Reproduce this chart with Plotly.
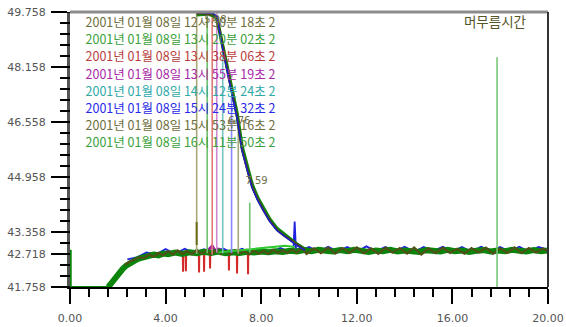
import plotly.graph_objects as go

# ---------------- data ----------------
X_TICKS = [0, 4, 8, 12, 16, 20]
X_TICK_TEXT = ["0.00", "4.00", "8.00", "12.00", "16.00", "20.00"]
Y_TICKS = [41.758, 42.718, 43.358, 44.958, 46.558, 48.158, 49.758]
Y_TICK_TEXT = ["41.758", "42.718", "43.358", "44.958", "46.558", "48.158", "49.758"]

# zero spike + flat start (green)
ZERO_X = [0.03, 0.03, 1.60]
ZERO_Y = [42.84, 41.758, 41.758]

# green baseline band
GX = [1.60, 1.75, 1.90, 2.05, 2.20, 2.35, 2.50, 2.65, 2.80, 2.95, 3.10, 3.30, 3.50, 3.70, 3.90,
      4.10, 4.40, 4.70, 5.00, 5.30, 5.60, 5.90, 6.20, 6.50, 6.80, 7.10, 7.40, 7.70, 8.00, 8.30,
      8.60, 8.90, 9.20, 9.50, 9.80, 10.10, 10.40, 10.70, 11.00, 11.30, 11.60, 11.90, 12.20, 12.50,
      12.80, 13.10, 13.40, 13.70, 14.00, 14.30, 14.60, 14.90, 15.20, 15.50, 15.80, 16.10, 16.40,
      16.70, 17.00, 17.30, 17.60, 17.90, 18.20, 18.50, 18.80, 19.10, 19.40, 19.70, 20.00]
GY = [41.758, 41.90, 42.05, 42.18, 42.28, 42.38, 42.45, 42.52, 42.56, 42.60, 42.63, 42.66, 42.70,
      42.68, 42.73, 42.71, 42.76, 42.72, 42.77, 42.74, 42.78, 42.75, 42.79, 42.74, 42.77, 42.75,
      42.78, 42.76, 42.79, 42.77, 42.80, 42.78, 42.81, 42.79, 42.83, 42.80, 42.84, 42.81, 42.79,
      42.83, 42.80, 42.84, 42.81, 42.78, 42.82, 42.80, 42.84, 42.79, 42.82, 42.80, 42.78, 42.83,
      42.81, 42.79, 42.84, 42.80, 42.82, 42.78, 42.81, 42.83, 42.79, 42.82, 42.80, 42.84, 42.81,
      42.79, 42.83, 42.80, 42.82]

# olive baseline (noisy)
OX = [2.30, 2.50, 2.70, 2.90, 3.10, 3.30, 3.50, 3.70, 3.90, 4.10, 4.30, 4.50, 4.70, 4.90, 5.10,
      5.30, 5.50, 5.70, 5.90, 6.10, 6.30, 6.50, 6.70, 6.90, 7.10, 7.30, 7.50, 7.70, 7.90, 8.10,
      8.30, 8.50, 8.70, 8.90, 9.10, 9.30, 9.50, 9.70, 9.90, 10.2, 10.5, 10.8, 11.1, 11.4, 11.7,
      12.0, 12.3, 12.6, 12.9, 13.2, 13.5, 13.8, 14.1, 14.4, 14.7, 15.0, 15.3, 15.6, 15.9, 16.2,
      16.5, 16.8, 17.1, 17.4, 17.7, 18.0, 18.3, 18.6, 18.9, 19.2, 19.5, 19.8, 20.0]
OY = [42.40, 42.50, 42.55, 42.62, 42.60, 42.70, 42.64, 42.75, 42.68, 42.80,
      42.70, 42.82, 42.72, 42.80, 42.71, 42.84, 42.73, 42.81, 42.70, 42.82,
      42.72, 42.80, 42.70, 42.83, 42.74, 42.80, 42.71, 42.82, 42.73, 42.81,
      42.72, 42.84, 42.74, 42.82, 42.75, 42.85, 42.76, 42.90, 42.72,
      42.88, 42.74, 42.90, 42.73, 42.89, 42.75, 42.91, 42.74, 42.88, 42.72,
      42.90, 42.76, 42.89, 42.73, 42.91, 42.70, 42.88, 42.74, 42.90, 42.75,
      42.87, 42.73, 42.89, 42.76, 42.90, 42.72, 42.88, 42.75, 42.91, 42.74,
      42.89, 42.76, 42.88, 42.80]

# blue baseline with spike near 9.4
BX = [2.4, 2.8, 3.2, 3.6, 4.0, 4.4, 4.8, 5.2, 5.6, 6.0, 6.4, 6.8, 7.2, 7.6, 8.0, 8.4, 8.8, 9.2,
      9.35, 9.4, 9.45, 9.6, 10.0, 10.4, 10.8, 11.2, 11.6, 12.0, 12.4, 12.8, 13.2, 13.6, 14.0,
      14.4, 14.8, 15.2, 15.6, 16.0, 16.4, 16.8, 17.2, 17.6, 18.0, 18.4, 18.8, 19.2, 19.6, 20.0]
BY = [42.56, 42.62, 42.76, 42.70, 42.86, 42.72, 42.87, 42.74, 42.86, 42.73, 42.88, 42.75, 42.87,
      42.74, 42.88, 42.76, 42.89, 42.78, 42.86, 43.66, 42.90, 42.80, 42.92, 42.78, 42.93, 42.79,
      42.92, 42.78, 42.94, 42.80, 42.92, 42.79, 42.93, 42.78, 42.92, 42.80, 42.93, 42.79, 42.92,
      42.78, 42.93, 42.80, 42.92, 42.79, 42.93, 42.78, 42.92, 42.84]

# red dips below the baseline
RED_X = [4.50, 4.72, 4.73, 4.74, 4.84, 4.85, 4.86, 5.39, 5.40, 5.41, 5.60, 5.61, 5.62, 5.85, 5.86,
         5.87, 6.64, 6.65, 6.66, 6.98, 6.99, 7.00, 7.44, 7.45, 7.46, 7.70]
RED_Y = [42.76, 42.76, 42.20, 42.76, 42.76, 42.22, 42.76, 42.76, 42.18, 42.76, 42.76, 42.20, 42.76,
         42.76, 42.30, 42.76, 42.76, 42.24, 42.76, 42.76, 42.15, 42.76, 42.76, 42.13, 42.76, 42.76]

PURPLE_X = [5.50, 5.80, 5.95, 6.05, 6.20, 6.50]
PURPLE_Y = [42.80, 42.84, 42.95, 42.82, 42.86, 42.80]

# light green drift line
DRIFT_X = [6.2, 6.6, 7.0, 7.5, 8.0, 8.5, 9.0, 9.4]
DRIFT_Y = [42.76, 42.79, 42.81, 42.86, 42.90, 42.93, 42.96, 42.92]

# common decay curve
DX = [5.30, 5.55, 5.74, 5.98, 6.15, 6.40, 6.69, 6.99, 7.20, 7.45, 7.62, 7.85, 8.08, 8.35, 8.66,
      8.95, 9.21, 9.50, 9.83]
DY = [49.70, 49.72, 49.68, 49.70, 49.60, 48.68, 47.71, 46.72, 45.76, 45.10, 44.68, 44.32, 44.01,
      43.70, 43.42, 43.26, 43.13, 42.98, 42.84]
DGY = [49.68, 49.70, 49.70, 49.66, 49.56, 48.74, 47.78, 46.80, 45.84, 45.16, 44.74, 44.36, 44.06,
       43.74, 43.46, 43.30, 43.16, 43.00, 42.86]
DBY = [49.74, 49.73, 49.72, 49.72, 49.62, 48.64, 47.66, 46.68, 45.72, 45.06, 44.64, 44.28, 43.98,
       43.67, 43.40, 43.24, 43.11, 42.96, 42.83]

# run peaks (vertical drop lines)
SPIKE_T = [5.30, 5.74, 5.95, 6.14, 6.39, 6.76, 7.04, 7.52]
SPIKE_BASE = [42.72, 42.74, 42.70, 42.76, 42.74, 42.75, 42.73, 42.76]
SPIKE_TOP = [49.90, 49.90, 49.90, 49.90, 48.70, 47.30, 46.60, 44.21]
SPIKE_COLORS = ["#a8a878", "#70c070", "#e07878", "#d088d0", "#78c4c4", "#8888ff", "#a8a878", "#70c070"]

STUB_X = [5.30, 5.30]
STUB_Y = [42.98, 43.65]

RT_LINE_X = [17.87, 17.87]
RT_LINE_Y = [41.758, 48.44]

RUN_LABELS = ["2001년 01월 08일 12시 50분 18초 2",
              "2001년 01월 08일 13시 20분 02초 2",
              "2001년 01월 08일 13시 38분 06초 2",
              "2001년 01월 08일 13시 55분 19초 2",
              "2001년 01월 08일 14시 12분 24초 2",
              "2001년 01월 08일 15시 24분 32초 2",
              "2001년 01월 08일 15시 53분 16초 2",
              "2001년 01월 08일 16시 11분 50초 2"]
RUN_COLORS = ["#6e6e3c", "#3aa03a", "#b83c3c", "#a828a8", "#30a8a8", "#2828e8", "#6e6e3c", "#3aa03a"]
RUN_LABEL_Y = [49.41, 48.91, 48.41, 47.91, 47.41, 46.91, 46.41, 45.91]
RUN_LABEL_X = [0.65] * 8

PEAK_LABELS = ["5.98", "6.76", "7.59"]
PEAK_LABEL_X = [5.62, 6.62, 7.34]
PEAK_LABEL_Y = [49.50, 46.58, 44.82]

RT_TITLE = ["머무름시간"]
RT_TITLE_X = [17.78]
RT_TITLE_Y = [49.41]

# ---------------- figure ----------------
fig = go.Figure()

def line(x, y, color, width, opacity=1.0):
    fig.add_trace(go.Scatter(x=x, y=y, mode="lines", opacity=opacity,
                             line=dict(color=color, width=width), hoverinfo="skip"))

line(RED_X, RED_Y, "#d42a2a", 2)
line(PURPLE_X, PURPLE_Y, "#a020a0", 3)
line(BX, BY, "#2020e0", 1.8)
line(GX, GY, "#0a840a", 6)
line(ZERO_X, ZERO_Y, "#0a840a", 2)
line(OX, OY, "#505018", 2.2)
line(DRIFT_X, DRIFT_Y, "#30c830", 2)

for t, b, top, c in zip(SPIKE_T, SPIKE_BASE, SPIKE_TOP, SPIKE_COLORS):
    line([t, t], [b, top], c, 1.6)

line(STUB_X, STUB_Y, "#6b6b1a", 2)
line(DX, DGY, "#0a8a0a", 3.5)
line(DX, DY, "#4a4a14", 2.5)
line(DX, DBY, "#1a1ad8", 1.4)
line(RT_LINE_X, RT_LINE_Y, "#78c878", 1.6)

# run labels as text marks
for txt, c, x, y in zip(RUN_LABELS, RUN_COLORS, RUN_LABEL_X, RUN_LABEL_Y):
    fig.add_trace(go.Scatter(x=[x], y=[y], mode="text", text=[txt], textposition="middle right",
                             textfont=dict(family="Noto Sans CJK KR", size=12.5, color=c),
                             hoverinfo="skip", cliponaxis=False))

fig.add_trace(go.Scatter(x=PEAK_LABEL_X, y=PEAK_LABEL_Y, mode="text", text=PEAK_LABELS,
                         textposition="middle right", hoverinfo="skip",
                         textfont=dict(family="DejaVu Sans", size=10, color="#6e6e50")))

fig.add_trace(go.Scatter(x=RT_TITLE_X, y=RT_TITLE_Y, mode="text", text=RT_TITLE,
                         textposition="middle center", hoverinfo="skip",
                         textfont=dict(family="Noto Sans CJK KR", size=13.5, color="#55552a")))

fig.update_layout(
    xaxis=dict(range=[0, 20], showgrid=False, zeroline=False, showline=True, linecolor="black",
               linewidth=2, ticks="outside", ticklen=15, tickwidth=2, tickcolor="black",
               tickmode="linear", tick0=0, dtick=4, tickformat=".2f", ticklabelstandoff=5,
               automargin=False,
               tickfont=dict(family="DejaVu Sans", size=11, color="#555555"),
               minor=dict(ticks="outside", ticklen=8, tickwidth=2, tickcolor="black",
                          tick0=0, dtick=0.8)),
    yaxis=dict(range=[41.758, 49.758], showgrid=False, zeroline=False, showline=True,
               linecolor="#555555", linewidth=3, ticks="outside", ticklen=16, tickwidth=2,
               tickcolor="black", tickmode="array", tickvals=Y_TICKS, ticktext=Y_TICK_TEXT,
               ticklabelstandoff=3, automargin=False,
               tickfont=dict(family="DejaVu Sans", size=11, color="#555555")),
)

# minor y ticks (axis furniture), every 0.32 from the bottom of the axis
PLOT_W = 566 - 70 - 18
for k in range(26):
    v = round(41.758 + 0.32 * k, 3)
    fig.add_shape(type="line", xref="paper", yref="y", x0=-10 / PLOT_W, x1=0, y0=v, y1=v,
                  line=dict(color="black", width=2), layer="above")

fig.add_shape(type="line", xref="paper", yref="paper", x0=0, x1=1, y0=1, y1=1,
              line=dict(color="#8c8c8c", width=3))
fig.add_shape(type="line", xref="paper", yref="paper", x0=1, x1=1, y0=0, y1=1,
              line=dict(color="#333333", width=2))

fig.update_layout(width=566, height=327, margin=dict(l=70, r=18, t=12, b=40),
                  plot_bgcolor="white", paper_bgcolor="white", showlegend=False)

fig.write_html("out.html", config={"displayModeBar": False},
               post_script="document.body.style.margin='0';document.body.style.padding='0';"
                           "document.body.style.overflow='hidden';")
